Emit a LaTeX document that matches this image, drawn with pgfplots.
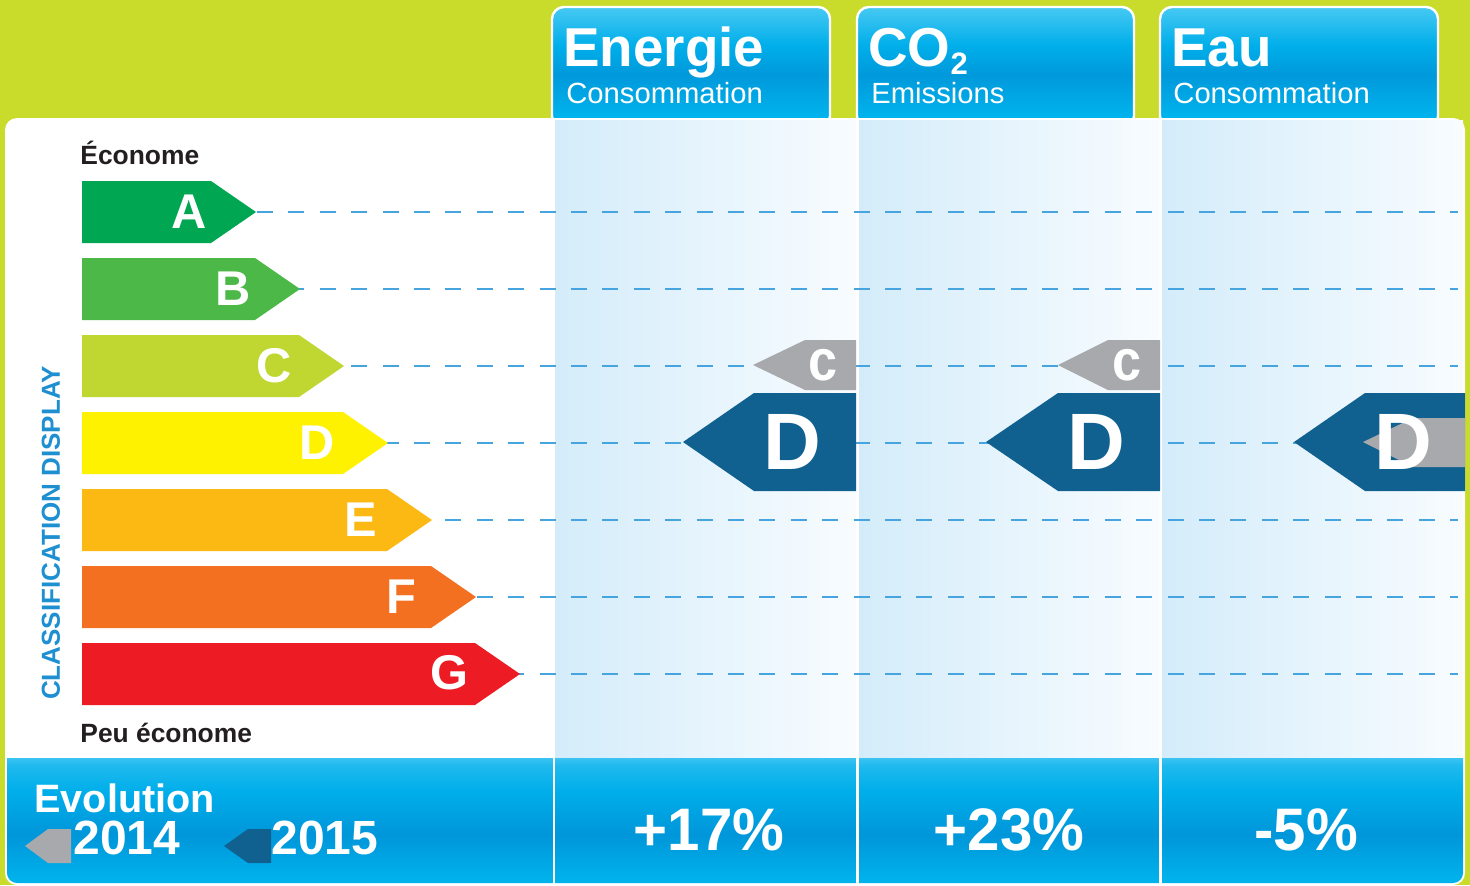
\documentclass[border=0pt]{standalone}
\usepackage{pgfplots}
\pgfplotsset{compat=1.18}
\usepackage{fontspec}
\setmainfont{Liberation Sans}
\usepackage{graphicx}
\definecolor{bggreen}{RGB}{201,220,44}
\definecolor{txtdark}{RGB}{35,31,32}
\definecolor{clsblue}{RGB}{30,144,210}
\definecolor{dashblue}{RGB}{70,165,222}
\definecolor{rA}{RGB}{0,166,81}
\definecolor{rB}{RGB}{76,184,72}
\definecolor{rC}{RGB}{191,215,48}
\definecolor{rD}{RGB}{255,242,0}
\definecolor{rE}{RGB}{253,185,19}
\definecolor{rF}{RGB}{243,112,33}
\definecolor{rG}{RGB}{237,28,36}
\definecolor{pdark}{RGB}{16,97,143}
\definecolor{pgray}{RGB}{167,169,172}
\definecolor{colL}{RGB}{212,236,250}
\definecolor{colR}{RGB}{248,252,255}
\definecolor{tabtop}{RGB}{66,199,242}
\definecolor{tabmid}{RGB}{0,174,234}
\definecolor{tabdark}{RGB}{0,153,219}
\definecolor{tabbot}{RGB}{0,180,237}
\definecolor{bandtop}{RGB}{62,197,242}
\definecolor{bandml}{RGB}{30,185,238}
\definecolor{bandmid}{RGB}{0,174,234}
\definecolor{banddark}{RGB}{0,150,218}
\definecolor{bandbot}{RGB}{0,180,236}
\pgfdeclareverticalshading{tabshade}{100bp}{color(0bp)=(tabbot); color(29bp)=(tabbot); color(47bp)=(tabdark); color(59bp)=(tabmid); color(74bp)=(tabtop); color(100bp)=(tabtop)}
\pgfdeclareverticalshading{bandshade}{100bp}{color(0bp)=(bandbot); color(25bp)=(bandbot); color(42bp)=(banddark); color(57bp)=(bandmid); color(66bp)=(bandml); color(69bp)=(bandtop); color(100bp)=(bandtop)}
\begin{document}
\begin{tikzpicture}
\begin{axis}[width=735pt, height=442.5pt, scale only axis,
  xmin=0, xmax=1470, ymin=0, ymax=885, y dir=reverse,
  axis lines=none, ticks=none, clip=true]
% background
\addplot[fill=bggreen, draw=none] coordinates {(0,0)(1470,0)(1470,885)(0,885)} -- cycle;
% tabs
\addplot[shading=tabshade, draw=white, line width=1.2pt, rounded corners=6pt] coordinates {(552,7)(830,7)(830,128)(552,128)} -- cycle;
\addplot[shading=tabshade, draw=white, line width=1.2pt, rounded corners=6pt] coordinates {(857,7)(1134,7)(1134,128)(857,128)} -- cycle;
\addplot[shading=tabshade, draw=white, line width=1.2pt, rounded corners=6pt] coordinates {(1160,7)(1438,7)(1438,128)(1160,128)} -- cycle;
% white panel
\addplot[fill=white, draw=none, rounded corners=6pt] coordinates {(5,118)(1465,118)(1465,885)(5,885)} -- cycle;
% bottom band
\addplot[shading=bandshade, draw=none, rounded corners=5pt] coordinates {(7,740)(1463,740)(1463,883)(7,883)} -- cycle;
\addplot[fill=white, draw=none] coordinates {(5,725)(1465,725)(1465,758)(5,758)} -- cycle;
\addplot[white, line width=1.3pt] coordinates {(554,757)(554,885)};
\addplot[white, line width=1.3pt] coordinates {(857.5,757)(857.5,885)};
\addplot[white, line width=1.3pt] coordinates {(1160.5,757)(1160.5,885)};
% columns
\addplot[left color=colL, right color=colR, draw=none] coordinates {(555,120)(856,120)(856,757)(555,757)} -- cycle;
\addplot[left color=colL, right color=colR, draw=none] coordinates {(859,120)(1159,120)(1159,757)(859,757)} -- cycle;
\addplot[left color=colL, right color=colR, draw=none] coordinates {(1162,120)(1463,120)(1463,757)(1162,757)} -- cycle;
% dashed lines
\pgfplotsinvokeforeach{212,289,366,443,520,597,674}{
  \addplot[dashblue, line width=0.9pt, dash pattern=on 8pt off 7.7pt] coordinates {(257,#1)(1458,#1)};
}
% rating arrows
\addplot[fill=rA, draw=none] coordinates {(82,181)(211,181)(256,212)(211,243)(82,243)} -- cycle;
\addplot[fill=rB, draw=none] coordinates {(82,258)(255,258)(300,289)(255,320)(82,320)} -- cycle;
\addplot[fill=rC, draw=none] coordinates {(82,335)(299,335)(344,366)(299,397)(82,397)} -- cycle;
\addplot[fill=rD, draw=none] coordinates {(82,412)(343,412)(388,443)(343,474)(82,474)} -- cycle;
\addplot[fill=rE, draw=none] coordinates {(82,489)(387,489)(432,520)(387,551)(82,551)} -- cycle;
\addplot[fill=rF, draw=none] coordinates {(82,566)(431,566)(476,597)(431,628)(82,628)} -- cycle;
\addplot[fill=rG, draw=none] coordinates {(82,643)(475,643)(520,674)(475,705)(82,705)} -- cycle;
% pointers 2014 (gray) and 2015 (dark)
\addplot[fill=pgray, draw=none] coordinates {(753,365)(805,340)(856,340)(856,390)(805,390)} -- cycle;
\addplot[fill=pdark, draw=none] coordinates {(683,442)(754,393)(856,393)(856,491)(754,491)} -- cycle;
\addplot[fill=pgray, draw=none] coordinates {(1058,365)(1108,340)(1160,340)(1160,390)(1108,390)} -- cycle;
\addplot[fill=pdark, draw=none] coordinates {(986,442)(1058,393)(1160,393)(1160,491)(1058,491)} -- cycle;
\addplot[fill=pdark, draw=none] coordinates {(1294,442)(1365,393)(1465,393)(1465,491)(1365,491)} -- cycle;
\addplot[fill=pgray, draw=none] coordinates {(1363,442)(1413,418)(1465,418)(1465,467)(1413,467)} -- cycle;
% legend arrows
\addplot[fill=pgray, draw=none] coordinates {(25,846)(48,829)(71,829)(71,863)(48,863)} -- cycle;
\addplot[fill=pdark, draw=none] coordinates {(224,846)(248,829)(271,829)(271,863)(248,863)} -- cycle;
% texts
\node[anchor=base west, inner sep=0, text=txtdark, font=\fontsize{13.2}{15}\selectfont\bfseries] at (axis cs:80,164) {Économe};
\node[anchor=base west, inner sep=0, text=txtdark, font=\fontsize{13.2}{15}\selectfont\bfseries] at (axis cs:80,742) {Peu économe};
\node[rotate=90, inner sep=0, text=clsblue, font=\fontsize{13}{15}\selectfont\bfseries] at (axis cs:51,533) {CLASSIFICATION DISPLAY};
\tikzset{rl/.style={inner sep=0, text=white, font=\fontsize{24.4}{26}\selectfont\bfseries}}
\node[rl] at (axis cs:189,212) {A};
\node[rl] at (axis cs:233,289) {B};
\node[rl] at (axis cs:274,366) {C};
\node[rl] at (axis cs:317.5,443) {D};
\node[rl] at (axis cs:361,520) {E};
\node[rl] at (axis cs:401,597) {F};
\node[rl] at (axis cs:449.5,673) {G};
\tikzset{pd/.style={inner sep=0, text=white, font=\fontsize{40}{42}\selectfont\bfseries}}
\tikzset{pc/.style={inner sep=0, text=white, font=\fontsize{29}{31}\selectfont\bfseries}}
\node[pd] at (axis cs:792,442) {D};
\node[pc] at (axis cs:823,365) {\scalebox{0.9}[1]{c}};
\node[pd] at (axis cs:1096,442) {D};
\node[pc] at (axis cs:1127,365) {\scalebox{0.9}[1]{c}};
\node[pd] at (axis cs:1403,442) {D};
% headers
\tikzset{ht/.style={anchor=base west, inner sep=0, text=white, font=\fontsize{27.4}{29}\selectfont\bfseries}}
\tikzset{hs/.style={anchor=base west, inner sep=0, text=white, font=\fontsize{14.6}{16}\selectfont}}
\node[ht] at (axis cs:563,66) {Energie};
\node[hs] at (axis cs:566,103) {Consommation};
\node[ht] at (axis cs:868,66) {CO\raisebox{-4pt}{\fontsize{15.5}{15}\selectfont 2}};
\node[hs] at (axis cs:871,103) {Emissions};
\node[ht] at (axis cs:1171,66) {Eau};
\node[hs] at (axis cs:1173,103) {Consommation};
% bottom band texts
\node[anchor=base west, inner sep=0, text=white, font=\fontsize{19.8}{21}\selectfont\bfseries] at (axis cs:34,812) {Evolution};
\node[anchor=base west, inner sep=0, text=white, font=\fontsize{24}{25}\selectfont\bfseries] at (axis cs:73,854) {2014};
\node[anchor=base west, inner sep=0, text=white, font=\fontsize{24}{25}\selectfont\bfseries] at (axis cs:271,854) {2015};
\tikzset{pct/.style={anchor=base, inner sep=0, text=white, font=\fontsize{30}{32}\selectfont\bfseries}}
\node[pct] at (axis cs:709,850) {\scalebox{0.97}[1]{+17\%}};
\node[pct] at (axis cs:1009,850) {\scalebox{0.97}[1]{+23\%}};
\node[pct] at (axis cs:1306,850) {\scalebox{0.97}[1]{-5\%}};
\end{axis}
\end{tikzpicture}
\end{document}
